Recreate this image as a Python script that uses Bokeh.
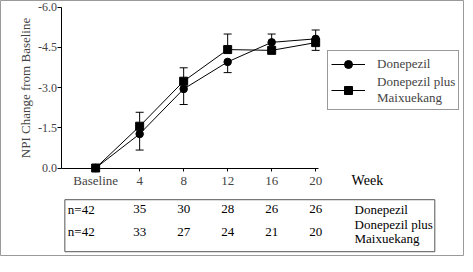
import math
from bokeh.plotting import figure
from bokeh.models import (Range1d, FixedTicker, Legend, LegendItem,
                          NumeralTickFormatter)
from bokeh.core.properties import value
from bokeh.embed import file_html
from bokeh.resources import INLINE

# ---------------- data ----------------
weeks = [0, 4, 8, 12, 16, 20]
week_labels = ["Baseline", "4", "8", "12", "16", "20"]
y_ticks = [0, -1.5, -3.0, -4.5, -6.0]

donepezil = [0, -1.27, -2.95, -3.96, -4.69, -4.82]
donepezil_err_end = [math.nan, -0.67, -2.37, -3.56, -5.0, -5.15]
combo = [0, -1.56, -3.24, -4.42, -4.39, -4.68]
combo_err_end = [math.nan, -2.08, -3.74, -5.0, math.nan, -4.39]

series_names = ["Donepezil", "Donepezil plus\nMaixuekang"]
n_donepezil = [42, 35, 30, 28, 26, 26]
n_combo = [42, 33, 27, 24, 21, 20]

FONT = "Liberation Serif"
FS = "13px"

# ---------------- figure (frame = whole canvas, axes at fixed locations) ----------------
W, H = 464, 256
p = figure(width=W, height=H, output_backend="svg", toolbar_location=None,
           x_range=Range1d(-8.65, 33.53), y_range=Range1d(3.302, -6.251),
           min_border=0, min_border_left=0, min_border_right=0,
           min_border_top=0, min_border_bottom=0)
p.outline_line_color = "#9a9a9a"
p.outline_line_width = 1
p.grid.visible = False
p.extra_y_ranges = {"table": Range1d(-1.126, 10.405)}

# error bars (one-sided, as in the original)
for vals, errs in ((donepezil, donepezil_err_end), (combo, combo_err_end)):
    p.segment(x0=weeks, y0=vals, x1=weeks, y1=errs, line_color="black", line_width=1)
    p.scatter(x=weeks, y=errs, marker="dash", size=8, line_color="black", line_width=1)

l1 = p.line(weeks, donepezil, line_color="black", line_width=1)
s1 = p.scatter(weeks, donepezil, marker="circle", size=7.5, color="black")
l2 = p.line(weeks, combo, line_color="black", line_width=1)
s2 = p.scatter(weeks, combo, marker="square", size=8, color="black")

xa = p.xaxis[0]
xa.fixed_location = 0
xa.ticker = FixedTicker(ticks=weeks)
xa.major_label_overrides = {w: lab for w, lab in zip(weeks, week_labels)}
xa.bounds = (-3.06, 20.28)
xa.minor_tick_line_color = None
xa.major_tick_in = 0
xa.major_tick_out = 3
xa.major_label_standoff = 2
xa.major_label_text_font = FONT
xa.major_label_text_font_size = FS
xa.axis_line_color = "black"

ya = p.yaxis[0]
ya.fixed_location = -3.06
ya.bounds = (-6.0, 0.0)
ya.ticker = FixedTicker(ticks=y_ticks)
ya.formatter = NumeralTickFormatter(format="0.0")
ya.minor_tick_line_color = None
ya.major_tick_in = 0
ya.major_tick_out = 4
ya.major_label_standoff = 1
ya.major_label_text_font = FONT
ya.major_label_text_font_size = "12px"
ya.axis_label = "NPI Change from Baseline"
ya.axis_label_text_font = FONT
ya.axis_label_text_font_style = "normal"
ya.axis_label_text_font_size = FS
ya.axis_label_standoff = 2

# "Week" caption at the tick-label row
p.text(x=[24.7], y=[0.466], text=["Week"], text_align="center", text_baseline="middle",
       text_font=value(FONT), text_font_size="14px")

legend = Legend(items=[LegendItem(label=series_names[0], renderers=[l1, s1]),
                       LegendItem(label=series_names[1], renderers=[l2, s2])],
                location=(327, 146))
legend.label_text_font = FONT
legend.label_text_font_size = FS
legend.label_text_line_height = 0.95
legend.glyph_width = 34
legend.label_standoff = 12
legend.padding = 3
legend.spacing = 0
legend.margin = 0
legend.border_line_color = "#333333"
legend.background_fill_alpha = 1
p.add_layout(legend)

# ---------------- n table (own y range) ----------------
p.quad(left=[-2.8], right=[30.83], bottom=[-0.91], top=[1.432], y_range_name="table",
       fill_color=None, line_color="#555555", line_width=1)
for row_y, counts in ((1, n_donepezil), (0, n_combo)):
    p.text(x=[-2.53], y=[row_y], text=["n=%d" % counts[0]], text_align="left",
           text_baseline="middle", text_font=value(FONT), text_font_size=FS,
           y_range_name="table")
    p.text(x=weeks[1:], y=[row_y] * (len(weeks) - 1), text=[str(c) for c in counts[1:]],
           text_align="center", text_baseline="middle", text_font=value(FONT),
           text_font_size=FS, y_range_name="table")
p.text(x=[23.53, 23.53], y=[1, 0], text=series_names, text_align="left",
       text_baseline="middle", text_font=value(FONT), text_font_size=FS,
       text_line_height=0.95, y_range_name="table")

open("out.html", "w").write(file_html(p, INLINE))
